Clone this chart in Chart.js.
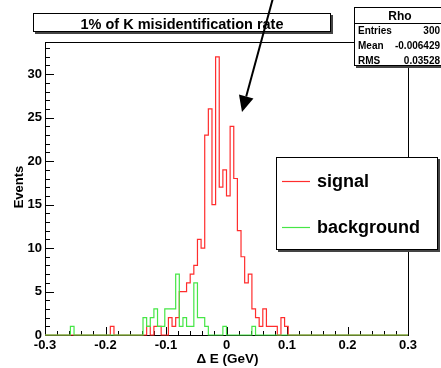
<!DOCTYPE html>
<html>
<head>
<meta charset="utf-8">
<script src="https://cdn.jsdelivr.net/npm/chart.js@4.4.0/dist/chart.umd.min.js"></script>
<style>
  html, body { margin: 0; padding: 0; background: #fff; }
</style>
</head>
<body>
<canvas id="chart" width="441" height="368"></canvas>
<script>
// Delta E histogram, 100 bins of 0.006 GeV between -0.3 and 0.3
const xMin = -0.3
const xMax = 0.3
const binWidth = 0.006

const signalCounts = [
  0, 0, 0, 0, 0, 0, 0, 0, 0, 0,
  0, 0, 0, 0, 0, 0, 0, 0, 0, 1,
  0, 0, 0, 0, 0, 0, 0, 0, 0, 1,
  0, 1, 1, 0, 0, 2, 1, 2, 5, 5,
  6, 7, 8, 11, 10, 23, 26, 15, 32, 17,
  19, 16, 24, 18, 12, 9, 6, 7, 3, 2,
  1, 3, 1, 1, 1, 0, 2, 1, 0, 0,
  0, 0, 0, 0, 0, 0, 0, 0, 0, 0,
  0, 0, 0, 0, 0, 0, 0, 0, 0, 0,
  0, 0, 0, 0, 0, 0, 0, 0, 0, 0
]
const backgroundCounts = [
  0, 0, 0, 0, 0, 0, 0, 0, 1, 0,
  0, 0, 0, 0, 0, 0, 0, 0, 0, 0,
  0, 0, 0, 0, 0, 0, 0, 0, 2, 1,
  2, 3, 1, 1, 3, 3, 3, 7, 1, 2,
  1, 1, 6, 2, 2, 1, 0, 0, 0, 0,
  1, 0, 0, 0, 0, 0, 0, 0, 1, 0,
  0, 0, 0, 0, 0, 0, 0, 0, 0, 0,
  0, 0, 0, 0, 0, 0, 0, 0, 0, 0,
  0, 0, 0, 0, 0, 0, 0, 0, 0, 0,
  0, 0, 0, 0, 0, 0, 0, 0, 0, 0
]
const xTickLabels = [-0.3, -0.2, -0.1, 0, 0.1, 0.2, 0.3]
const yTickLabels = [0, 5, 10, 15, 20, 25, 30]
const statsRows = [['Entries', '300'], ['Mean', '-0.006429'], ['RMS', '0.03528']]
const seriesNames = ['signal', 'background']

const FONT = '"Liberation Sans", Arial, Helvetica, sans-serif'
const RED = 'rgb(255, 45, 45)'
const GREEN = 'rgb(70, 230, 70)'

// bin edges -> points for a stepped line
const toSteps = (counts) => counts
  .map((c, i) => ({ x: xMin + i * binWidth, y: c }))
  .concat([{ x: xMax, y: counts[counts.length - 1] }])

function pave(ctx, x, y, w, h) {
  ctx.fillStyle = '#444'
  ctx.fillRect(x + 2, y + 2, w, h)
  ctx.fillStyle = '#fff'
  ctx.fillRect(x, y, w, h)
  ctx.strokeStyle = '#000'
  ctx.lineWidth = 1
  ctx.strokeRect(x + 0.5, y + 0.5, w - 1, h - 1)
}

const rootFrame = {
  id: 'rootFrame',
  beforeDatasetsDraw(chart) {
    const { ctx, chartArea: a, scales } = chart
    ctx.save()
    ctx.strokeStyle = '#000'
    ctx.lineWidth = 1
    ctx.strokeRect(Math.round(a.left) + 0.5, Math.round(a.top) + 0.5, Math.round(a.right - a.left), Math.round(a.bottom - a.top))

    ctx.beginPath()
    for (let i = 0; i <= 30; i++) {
      const v = xMin + i * 0.02
      const px = Math.round(scales.x.getPixelForValue(v)) + 0.5
      const len = i % 5 === 0 ? 8 : 4
      ctx.moveTo(px, a.bottom)
      ctx.lineTo(px, a.bottom - len)
    }
    for (let v = 0; v <= 33; v++) {
      const py = Math.round(scales.y.getPixelForValue(v)) + 0.5
      const len = v % 5 === 0 ? 9 : 5
      ctx.moveTo(a.left, py)
      ctx.lineTo(a.left + len, py)
    }
    ctx.stroke()
    ctx.restore()
  },
  afterDraw(chart) {
    const { ctx } = chart
    ctx.save()

    // title pave
    pave(ctx, 33, 13, 298, 19)
    ctx.fillStyle = '#000'
    ctx.font = 'bold 14.5px ' + FONT
    ctx.textAlign = 'center'
    ctx.textBaseline = 'alphabetic'
    ctx.fillText('1% of K misidentification rate', 182, 29)

    // stats pave
    pave(ctx, 354, 7, 95, 59)
    ctx.beginPath()
    ctx.moveTo(354, 23.5)
    ctx.lineTo(441, 23.5)
    ctx.stroke()
    ctx.font = 'bold 12px ' + FONT
    ctx.fillStyle = '#000'
    ctx.fillText('Rho', 400, 20)
    ctx.font = 'bold 10px ' + FONT
    statsRows.forEach(([k, v], i) => {
      const y = 34 + i * 15
      ctx.textAlign = 'left'
      ctx.fillText(k, 358, y)
      ctx.textAlign = 'right'
      ctx.fillText(v, 440, y)
    })

    // legend pave
    pave(ctx, 276, 157, 162, 93)
    const legendColors = [RED, GREEN]
    const legendY = [181, 227]
    ctx.font = 'bold 18px ' + FONT
    ctx.textAlign = 'left'
    seriesNames.forEach((name, i) => {
      ctx.strokeStyle = legendColors[i]
      ctx.lineWidth = 1.2
      ctx.beginPath()
      ctx.moveTo(282, legendY[i] + 0.5)
      ctx.lineTo(310, legendY[i] + 0.5)
      ctx.stroke()
      ctx.fillStyle = '#000'
      ctx.fillText(name, 317, legendY[i] + 5.5)
    })

    // arrow
    const x0 = 273, y0 = -2, x1 = 242, y1 = 112
    const len = Math.hypot(x1 - x0, y1 - y0)
    const ux = (x1 - x0) / len, uy = (y1 - y0) / len
    const bx = x1 - 16 * ux, by = y1 - 16 * uy
    ctx.strokeStyle = '#000'
    ctx.lineWidth = 2
    ctx.beginPath()
    ctx.moveTo(x0, y0)
    ctx.lineTo(bx, by)
    ctx.stroke()
    ctx.fillStyle = '#000'
    ctx.beginPath()
    ctx.moveTo(x1, y1)
    ctx.lineTo(bx - 7.5 * uy, by + 7.5 * ux)
    ctx.lineTo(bx + 7.5 * uy, by - 7.5 * ux)
    ctx.closePath()
    ctx.fill()

    // axis titles
    ctx.fillStyle = '#000'
    ctx.font = 'bold 13.5px ' + FONT
    ctx.textAlign = 'center'
    ctx.fillText('\u0394 E (GeV)', 227.5, 363)
    ctx.translate(23, 187)
    ctx.rotate(-Math.PI / 2)
    ctx.font = 'bold 13px ' + FONT
    ctx.fillText('Events', 0, 0)
    ctx.restore()
  }
}

const tickFont = { family: FONT, size: 13, weight: 'bold' }

new Chart(document.getElementById('chart'), {
  type: 'line',
  data: {
    datasets: [
      {
        label: seriesNames[0],
        data: toSteps(signalCounts),
        stepped: 'after',
        borderColor: RED,
        borderWidth: 1.2,
        pointRadius: 0,
        fill: false,
        clip: 3,
        order: 2
      },
      {
        label: seriesNames[1],
        data: toSteps(backgroundCounts),
        stepped: 'after',
        borderColor: GREEN,
        borderWidth: 1.2,
        pointRadius: 0,
        fill: false,
        clip: 3,
        order: 1
      }
    ]
  },
  options: {
    responsive: false,
    animation: false,
    events: [],
    layout: { padding: { top: 42, right: 33, left: 0, bottom: 0 } },
    plugins: {
      legend: { display: false },
      title: { display: false },
      tooltip: { enabled: false }
    },
    scales: {
      x: {
        type: 'linear',
        min: xMin,
        max: xMax,
        grid: { display: false, drawTicks: false },
        border: { display: false },
        afterBuildTicks: (s) => { s.ticks = xTickLabels.map(v => ({ value: v })) },
        afterFit: (s) => { s.height = 33 },
        ticks: {
          font: tickFont,
          color: '#000',
          padding: 3,
          maxRotation: 0,
          autoSkip: false,
          callback: (v) => String(Math.round(v * 10) / 10)
        }
      },
      y: {
        type: 'linear',
        min: 0,
        max: 33.7,
        grid: { display: false, drawTicks: false },
        border: { display: false },
        afterBuildTicks: (s) => { s.ticks = yTickLabels.map(v => ({ value: v })) },
        afterFit: (s) => { s.width = 45 },
        ticks: {
          font: tickFont,
          color: '#000',
          padding: 3,
          autoSkip: false
        }
      }
    }
  },
  plugins: [rootFrame]
})
</script>
</body>
</html>
